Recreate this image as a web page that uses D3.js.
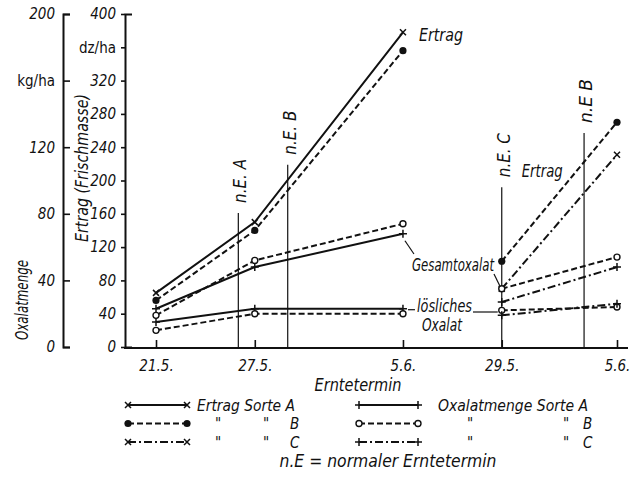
<!DOCTYPE html>
<html>
<head>
<meta charset="utf-8">
<script src="https://cdn.jsdelivr.net/npm/d3@7"></script>
<style>
  body { margin: 0; background: #fff; }
  svg text { font-family: "Liberation Sans Narrow", "DejaVu Sans Condensed", sans-serif; font-style: italic; font-size: 17px; fill: #111; }
  svg .tick text { font-size: 15px; }
  svg text.leg { font-size: 15px; }
</style>
</head>
<body>
<svg></svg>
<script>
// Erntetermine (Tage ab 1. Mai), zwei Versuchsjahre nebeneinander
const termine1 = ["21.5.", "27.5.", "5.6."];
const tage1 = [21, 27, 36];
const termine2 = ["29.5.", "5.6."];
const tage2 = [29, 36];
const versatz = 13; // zweites Jahr rechts anschliessend

// Ertrag dz/ha (Frischmasse)
const ertragA1 = [65, 150, 378];
const ertragB1 = [56, 140, 356];
const ertragB2 = [103, 270];
const ertragC2 = [70, 231];

// Oxalatmenge kg/ha
const gesamtA1 = [23, 48, 68];
const gesamtB1 = [19, 52, 74];
const loeslichA1 = [15, 23, 23];
const loeslichB1 = [10, 20, 20];
const gesamtB2 = [35, 54];
const gesamtC2 = [27, 48];
const loeslichB2 = [22, 24];
const loeslichC2 = [19, 26];

const ertragTicks = [0, 40, 80, 120, 160, 200, 240, 280, 320, 360, 400];
const oxalatTicks = [0, 40, 80, 120, 160, 200];

// normaler Erntetermin (Tag, Oberkante der Linie in dz/ha)
const nELabels = ["n.E. A", "n.E. B", "n.E. C", "n.E B"];
const nETage = [26, 29, 29 + versatz, 34 + versatz];
const nEOben = [161, 219, 192, 257];

// styles per Sorte
const dash = { A: null, B: "6,3", C: "8,3,2,3" };
const ertragMark = { A: "x", B: "dot", C: "x" };
const oxalatMark = { A: "plus", B: "ring", C: "plus" };

const w = 639, h = 487;
const svg = d3.select("svg").attr("width", w).attr("height", h);

const x = d3.scaleLinear().domain([21, 36 + versatz]).range([156, 617]);
const yE = d3.scaleLinear().domain([0, 400]).range([347, 14]);
const yO = d3.scaleLinear().domain([0, 200]).range([347, 14]);

function punkte(tage, werte, off) {
  return werte.map((v, i) => ({ tag: tage[i] + off, wert: v }));
}

const reihen = [
  { y: yE, sorte: "A", mark: ertragMark.A, pts: punkte(tage1, ertragA1, 0) },
  { y: yE, sorte: "B", mark: ertragMark.B, pts: punkte(tage1, ertragB1, 0) },
  { y: yE, sorte: "B", mark: ertragMark.B, pts: punkte(tage2, ertragB2, versatz) },
  { y: yE, sorte: "C", mark: ertragMark.C, pts: punkte(tage2, ertragC2, versatz) },
  { y: yO, sorte: "A", mark: oxalatMark.A, pts: punkte(tage1, gesamtA1, 0) },
  { y: yO, sorte: "B", mark: oxalatMark.B, pts: punkte(tage1, gesamtB1, 0) },
  { y: yO, sorte: "A", mark: oxalatMark.A, pts: punkte(tage1, loeslichA1, 0) },
  { y: yO, sorte: "B", mark: oxalatMark.B, pts: punkte(tage1, loeslichB1, 0) },
  { y: yO, sorte: "B", mark: oxalatMark.B, pts: punkte(tage2, gesamtB2, versatz) },
  { y: yO, sorte: "C", mark: oxalatMark.C, pts: punkte(tage2, gesamtC2, versatz) },
  { y: yO, sorte: "B", mark: oxalatMark.B, pts: punkte(tage2, loeslichB2, versatz) },
  { y: yO, sorte: "C", mark: oxalatMark.C, pts: punkte(tage2, loeslichC2, versatz) }
];

function marker(g, type, cx, cy) {
  if (type === "dot") {
    g.append("circle").attr("cx", cx).attr("cy", cy).attr("r", 3.6).attr("fill", "#111");
  } else if (type === "ring") {
    g.append("circle").attr("cx", cx).attr("cy", cy).attr("r", 3).attr("fill", "#fff")
      .attr("stroke", "#111").attr("stroke-width", 1.4);
  } else {
    const p = type === "x" ? "M-3,-3L3,3M-3,3L3,-3" : "M-4,0H4M0,-4V4";
    g.append("path").attr("d", p).attr("transform", `translate(${cx},${cy})`)
      .attr("stroke", "#111").attr("stroke-width", 1.5).attr("fill", "none");
  }
}

// text helper: squeeze to given width to imitate the narrow lettering
function label(tx, t, len, anchor) {
  const el = svg.append("text").attr("transform", tx).text(t);
  if (anchor) el.attr("text-anchor", anchor);
  if (len) el.attr("textLength", len).attr("lengthAdjust", "spacingAndGlyphs");
  return el;
}

// axes
const axE = svg.append("g").attr("transform", "translate(125,0)")
  .call(d3.axisLeft(yE).tickValues(ertragTicks).tickSizeInner(4).tickSizeOuter(-7)
    .tickPadding(5).tickFormat(d => d === 360 ? "dz/ha" : d));
const axO = svg.append("g").attr("transform", "translate(63,0)")
  .call(d3.axisLeft(yO).tickValues(oxalatTicks).tickSizeInner(-7).tickSizeOuter(-7)
    .tickPadding(8).tickFormat(d => d === 160 ? "kg/ha" : d));
[axE, axO].forEach(a => {
  a.select(".domain").attr("stroke", "#111").attr("stroke-width", 2);
  a.selectAll(".tick line").attr("stroke", "#111").attr("stroke-width", 1.6);
});
axE.selectAll(".tick text").filter(d => d === 360).style("font-style", "normal");
axO.selectAll(".tick text").filter(d => d === 160).style("font-style", "normal");

svg.append("line").attr("x1", 124).attr("x2", 628).attr("y1", 348).attr("y2", 348)
  .attr("stroke", "#111").attr("stroke-width", 2);

const alleTage = tage1.concat(tage2.map(t => t + versatz));
const alleTermine = termine1.concat(termine2);
const axX = svg.append("g").attr("transform", "translate(0,348)")
  .call(d3.axisBottom(x).tickValues(alleTage).tickFormat((d, i) => alleTermine[i])
    .tickSizeInner(-8).tickSizeOuter(0).tickPadding(12));
axX.select(".domain").remove();
axX.selectAll(".tick line").attr("stroke", "#111").attr("stroke-width", 1.6);

// normale Erntetermine
nETage.forEach((t, i) => {
  svg.append("line").attr("x1", x(t)).attr("x2", x(t)).attr("y1", yE(nEOben[i])).attr("y2", 348)
    .attr("stroke", "#111").attr("stroke-width", 1.2);
  label(`translate(${x(t) + 8},${yE(nEOben[i]) - 10}) rotate(-90)`, nELabels[i], 44);
});

// data lines
const line = d3.line();
reihen.forEach(r => {
  svg.append("path")
    .attr("d", line(r.pts.map(p => [x(p.tag), r.y(p.wert)])))
    .attr("fill", "none").attr("stroke", "#111").attr("stroke-width", 2)
    .attr("stroke-dasharray", dash[r.sorte]);
});
const mg = svg.append("g");
reihen.forEach(r => r.pts.forEach(p => marker(mg, r.mark, x(p.tag), r.y(p.wert))));

// axis titles
label("translate(28,300) rotate(-90)", "Oxalatmenge", 80, "middle");
label("translate(88,168) rotate(-90)", "Ertrag (Frischmasse)", 148, "middle");
label("translate(358,391)", "Erntetermin", 87, "middle");

// annotations
label(`translate(${x(36) + 16},${yE(ertragA1[2]) + 9})`, "Ertrag", 44);
label(`translate(${x(29 + versatz) + 20},177)`, "Ertrag", 41);
label("translate(453,271)", "Gesamtoxalat", 82, "middle");
label("translate(417,312)", "lösliches", 55);
label("translate(422,331)", "Oxalat", 40);
const leader = [
  [x(36) + 2, yO(gesamtA1[2]) + 7, x(36) + 11, 254],
  [494, 274, x(29 + versatz) - 2, yO(gesamtB2[0]) - 3],
  [x(36) + 5, yO(loeslichA1[2]) + 1, x(36) + 12, yO(loeslichA1[2]) + 1],
  [473, 312, x(29 + versatz) - 4, 312]
];
leader.forEach(l => svg.append("line").attr("x1", l[0]).attr("y1", l[1]).attr("x2", l[2]).attr("y2", l[3])
  .attr("stroke", "#111").attr("stroke-width", 1.2));

// legend
const legRows = [405, 423.5, 442];
const legLinks = [["Ertrag Sorte A"], ["\"", "\"", "B"], ["\"", "\"", "C"]];
const legRechts = [["Oxalatmenge Sorte A"], ["\"", "\"", "B"], ["\"", "\"", "C"]];
["A", "B", "C"].forEach((s, i) => {
  const yy = legRows[i];
  [[128, 187, ertragMark[s], legLinks[i], [197], [215, 263, 290], 98],
   [359, 418, oxalatMark[s], legRechts[i], [438], [467, 563, 583], 150]].forEach(c => {
    svg.append("line").attr("x1", c[0]).attr("x2", c[1]).attr("y1", yy).attr("y2", yy)
      .attr("stroke", "#111").attr("stroke-width", 2).attr("stroke-dasharray", dash[s]);
    marker(svg, c[2], c[0], yy);
    marker(svg, c[2], c[1], yy);
    const xs = c[3].length === 1 ? c[4] : c[5];
    c[3].forEach((t, j) => label(`translate(${xs[j]},${yy + 5.5})`, t, c[3].length === 1 ? c[6] : null)
      .attr("class", "leg"));
  });
});
label("translate(388,467)", "n.E = normaler Erntetermin", 217, "middle");
</script>
</body>
</html>
